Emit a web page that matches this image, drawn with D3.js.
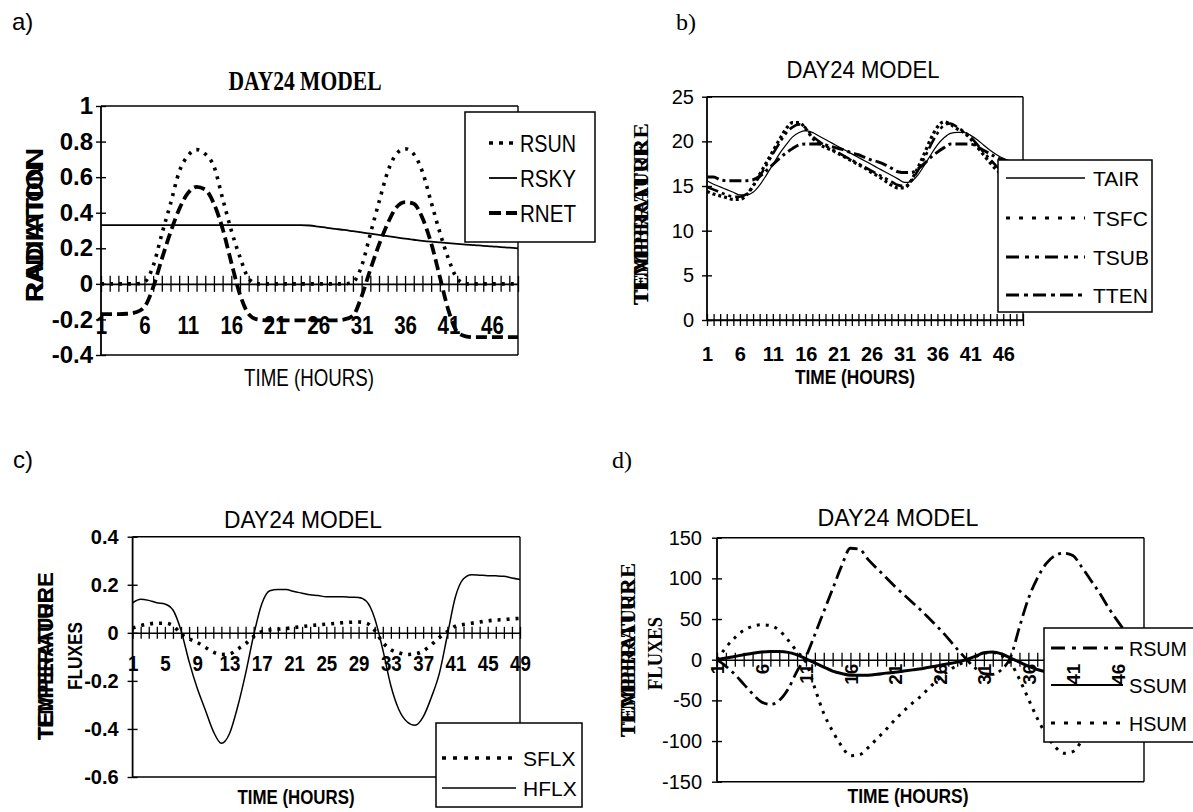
<!DOCTYPE html>
<html>
<head>
<meta charset="utf-8">
<script src="https://cdn.jsdelivr.net/npm/d3@7"></script>
<style>
  body { margin: 0; background: #fff; }
  svg { display: block; }
</style>
</head>
<body>
<svg id="fig" width="1193" height="812"></svg>
<script>
// ---- panel a: radiation (hours 1..49)
const rsun = [0, 0, 0, 0, 0, 0.01, 0.10, 0.28, 0.45, 0.63, 0.72, 0.755, 0.73, 0.66, 0.48, 0.30, 0.15, 0.03,
  0, 0, 0, 0, 0, 0, 0, 0, 0, 0, 0,
  0.01, 0.10, 0.28, 0.46, 0.63, 0.73, 0.76, 0.73, 0.63, 0.46, 0.29, 0.14, 0.03,
  0, 0, 0, 0, 0, 0, 0];
const rsky = [0.33, 0.33, 0.33, 0.33, 0.33, 0.33, 0.33, 0.33, 0.33, 0.33, 0.33, 0.33,
  0.33, 0.33, 0.33, 0.33, 0.33, 0.33, 0.33, 0.33, 0.33, 0.33, 0.33, 0.33,
  0.328, 0.322, 0.315, 0.309, 0.303, 0.296, 0.289, 0.282, 0.275, 0.268, 0.261, 0.254, 0.248,
  0.242, 0.237, 0.233, 0.229, 0.225, 0.221, 0.218, 0.214, 0.211, 0.207, 0.204, 0.20];
const rnet = [-0.17, -0.17, -0.17, -0.168, -0.16, -0.13, -0.02, 0.14, 0.29, 0.42, 0.51, 0.545, 0.53, 0.45,
  0.31, 0.12, -0.06, -0.17, -0.20, -0.205, -0.205, -0.205, -0.205, -0.205, -0.205, -0.205, -0.205,
  -0.205, -0.20, -0.18, -0.07, 0.08, 0.22, 0.34, 0.43, 0.46, 0.45, 0.37, 0.23, 0.04, -0.15, -0.27,
  -0.295, -0.30, -0.30, -0.30, -0.30, -0.30, -0.30];

// ---- panel b: temperatures
const tair = [15.6, 15.2, 14.9, 14.6, 14.3, 14.0, 14.0, 14.3, 15.1, 16.2, 17.4, 18.6, 19.6, 20.5, 21.0,
  21.2, 21.0, 20.6, 20.2, 19.8, 19.4, 19.0, 18.6, 18.2, 17.8, 17.4, 17.0, 16.6, 16.2, 15.8, 15.4,
  15.5, 16.2, 17.3, 18.5, 19.6, 20.4, 20.9, 21.0, 21.0, 20.7, 20.2, 19.6, 19.0, 18.5, 18.1, 17.8, 17.5, 17.3];
const tsfc = [14.4, 14.1, 13.9, 13.7, 13.5, 13.5, 14.0, 15.0, 16.3, 17.6, 18.9, 20.2, 21.4, 22.1, 22.1,
  21.4, 20.4, 19.7, 19.3, 19.0, 18.6, 18.2, 17.8, 17.4, 17.0, 16.5, 16.1, 15.6, 15.1, 14.8, 14.8,
  15.6, 17.0, 18.6, 20.3, 21.6, 22.2, 21.9, 21.4, 21.0, 20.3, 19.4, 18.5, 17.6, 16.8, 16.2, 15.9, 15.7, 15.6];
const tsub = [14.9, 14.6, 14.3, 14.0, 13.8, 13.8, 14.1, 15.0, 16.1, 17.3, 18.6, 19.8, 20.9, 21.6, 21.9,
  21.5, 20.6, 20.0, 19.5, 19.1, 18.7, 18.3, 17.9, 17.5, 17.1, 16.7, 16.3, 15.9, 15.5, 15.1, 15.0,
  15.5, 16.7, 18.1, 19.6, 20.9, 21.8, 22.0, 21.6, 21.1, 20.5, 19.7, 18.8, 18.0, 17.2, 16.6, 16.2, 15.9, 15.7];
const tten = [16.0, 16.0, 15.7, 15.6, 15.6, 15.6, 15.6, 15.7, 16.1, 16.7, 17.4, 18.1, 18.7, 19.2, 19.6,
  19.7, 19.7, 19.7, 19.6, 19.4, 19.2, 19.0, 18.7, 18.5, 18.2, 17.9, 17.7, 17.4, 17.0, 16.6, 16.5,
  16.5, 16.9, 17.5, 18.2, 18.8, 19.3, 19.7, 19.7, 19.7, 19.7, 19.4, 19.0, 18.6, 18.2, 17.9, 17.6, 17.3, 17.1];

// ---- panel c: fluxes
const sflx = [0.02, 0.03, 0.037, 0.04, 0.04, 0.03, -0.005, -0.025, -0.04, -0.06, -0.08, -0.09, -0.088,
  -0.068, -0.045, -0.015, 0.005, 0.012, 0.015, 0.018, 0.022, 0.026, 0.03, 0.033, 0.036, 0.039, 0.042,
  0.044, 0.045, 0.04, 0.01, -0.04, -0.07, -0.083, -0.09, -0.088, -0.075, -0.05, -0.02, 0.005, 0.028,
  0.035, 0.04, 0.045, 0.05, 0.053, 0.055, 0.058, 0.06];
const hflx = [0.125, 0.14, 0.135, 0.125, 0.12, 0.095, 0.01, -0.12, -0.23, -0.32, -0.41, -0.46, -0.42,
  -0.31, -0.17, -0.01, 0.12, 0.175, 0.18, 0.18, 0.172, 0.165, 0.158, 0.155, 0.15, 0.15, 0.15, 0.148,
  0.147, 0.13, 0.06, -0.07, -0.22, -0.32, -0.37, -0.385, -0.35, -0.27, -0.17, -0.01, 0.15, 0.225,
  0.242, 0.24, 0.238, 0.237, 0.235, 0.228, 0.222];

// ---- panel d: sums
const rsum = [0, -8, -18, -30, -42, -52, -55, -50, -36, -14, 4, 31, 59, 87, 115, 137, 136, 123, 112,
  101, 90, 80, 70, 60, 49, 38, 26, 13, 1, -10, -17, -18, -12, 3, 40, 75, 100, 118, 128, 131, 128,
  114, 98, 82, 64, 48, 33, 18, 5];
const ssum = [0, 2, 4, 6, 8, 9.5, 10, 10, 9, 6, 1, -4, -9, -14, -17, -19, -19, -19, -18, -16.5, -15.5,
  -14, -12.5, -11, -9, -7, -5, -3, 0, 4, 8.5, 9.5, 7, 2, -3, -8, -12, -15, -17, -18, -18, -17, -16.5,
  -16, -15.5, -15, -14.5, -14, -14];
const hsum = [0, 15, 27, 36, 41, 43, 42, 36, 24, 10, -3, -35, -66, -88, -106, -118, -117, -108, -97,
  -86, -74, -63, -53, -44, -33, -23, -14, -7, -2, 3, 8, 9, 5, -4, -24, -48, -72, -92, -107, -115,
  -113, -100, -85, -68, -52, -38, -26, -16, -8];

// ---- ticks and labels
const hours = rsun.map((_, i) => i + 1);
const hourLabels5 = ["1", "6", "11", "16", "21", "26", "31", "36", "41", "46"];
const hourLabels4 = ["1", "5", "9", "13", "17", "21", "25", "29", "33", "37", "41", "45", "49"];
const radTicks = [-0.4, -0.2, 0, 0.2, 0.4, 0.6, 0.8, 1];
const radTickLabels = ["-0.4", "-0.2", "0", "0.2", "0.4", "0.6", "0.8", "1"];
const tempTicks = [0, 5, 10, 15, 20, 25];
const tempTickLabels = ["0", "5", "10", "15", "20", "25"];
const fluxTicks = [-0.6, -0.4, -0.2, 0, 0.2, 0.4];
const fluxTickLabels = ["-0.6", "-0.4", "-0.2", "0", "0.2", "0.4"];
const sumTicks = [-150, -100, -50, 0, 50, 100, 150];
const sumTickLabels = ["-150", "-100", "-50", "0", "50", "100", "150"];

const SANS = "'Liberation Sans', Arial, sans-serif";
const SERIF = "'Liberation Serif', 'Times New Roman', serif";

const svg = d3.select("#fig");
svg.append("rect").attr("width", 1193).attr("height", 812).attr("fill", "#fff");

function label(g, str, x, y, o) {
  const t = g.append("text").attr("x", x).attr("y", y).text(str)
    .attr("font-family", o.family || SANS)
    .attr("font-size", o.size || 20)
    .attr("font-weight", o.weight || "normal")
    .attr("text-anchor", o.anchor || "middle")
    .attr("fill", "#000");
  if (o.len) t.attr("textLength", o.len).attr("lengthAdjust", "spacingAndGlyphs");
  if (o.rotate) t.attr("transform", `rotate(-90,${x},${y})`);
  return t;
}

function panel(p) {
  const g = svg.append("g");
  const x = d3.scaleLinear().domain([1, 49]).range([p.left, p.right]);
  const y = d3.scaleLinear().domain(p.yDomain).range([p.bottom, p.top]);

  // frame
  const frame = g.append("g").attr("stroke", "#000").attr("stroke-width", 1.4);
  frame.append("line").attr("x1", p.left).attr("x2", p.right).attr("y1", p.top).attr("y2", p.top);
  frame.append("line").attr("x1", p.right).attr("x2", p.right).attr("y1", p.top).attr("y2", p.bottom);
  frame.append("line").attr("x1", p.left).attr("x2", p.right).attr("y1", p.bottom).attr("y2", p.bottom);
  frame.append("line").attr("x1", p.left).attr("x2", p.left).attr("y1", p.top).attr("y2", p.bottom)
    .attr("stroke-width", 1.8);

  // y axis with crossing ticks
  const ya = g.append("g").attr("transform", `translate(${p.left},0)`)
    .call(d3.axisLeft(y).tickValues(p.yTicks).tickFormat((d, i) => p.yLabels[i])
      .tickSizeInner(5).tickSizeOuter(0).tickPadding(p.yPad));
  ya.select(".domain").remove();
  ya.selectAll(".tick line").attr("x1", 5).attr("stroke-width", 1.4);
  ya.selectAll(".tick text").attr("font-family", p.yFont.family).attr("font-size", p.yFont.size)
    .attr("font-weight", p.yFont.weight);

  // x axis at zero, one tick per hour
  const y0 = y(0);
  const xa = g.append("g").attr("transform", `translate(0,${y0})`)
    .call(d3.axisBottom(x).tickValues(hours).tickFormat("").tickSizeInner(p.xTick).tickSizeOuter(0));
  xa.selectAll(".tick line").attr("y1", -p.xTick).attr("stroke-width", 1.3);
  xa.select(".domain").attr("stroke-width", 1.6);

  // series
  const line = d3.line().x((d, i) => x(hours[i])).y(d => y(d)).curve(d3.curveMonotoneX);
  p.series.forEach(s => {
    g.append("path").datum(s.values).attr("d", line)
      .attr("fill", "none").attr("stroke", "#000")
      .attr("stroke-width", s.w).attr("stroke-dasharray", s.dash || null);
  });

  function xLabels() {
    const la = g.append("g").attr("transform", `translate(0,${y0})`)
      .call(d3.axisBottom(x).tickValues(p.xLabels.map(Number)).tickFormat((d, i) => p.xLabels[i])
        .tickSize(0).tickPadding(p.xPad));
    la.select(".domain").remove();
    const tx = la.selectAll(".tick text").attr("font-family", p.xFont.family)
      .attr("font-size", p.xFont.size).attr("font-weight", p.xFont.weight);
    if (p.xFont.sx) tx.attr("transform", `scale(${p.xFont.sx},1)`);
    if (p.xRotate) {
      tx.attr("transform", "rotate(-90)").attr("text-anchor", "end")
        .attr("x", -p.xPad).attr("y", 0).attr("dy", "0.36em");
    }
  }
  if (!p.labelsOnTop) xLabels();

  // legend
  const L = p.legend;
  g.append("rect").attr("x", L.x).attr("y", L.y).attr("width", L.w).attr("height", L.h)
    .attr("fill", "#fff").attr("stroke", "#000").attr("stroke-width", 1.5);
  p.series.forEach((s, i) => {
    const ry = L.rows[i];
    g.append("line").attr("x1", L.s0).attr("x2", L.s1).attr("y1", ry).attr("y2", ry)
      .attr("stroke", "#000").attr("stroke-width", s.lw || s.w)
      .attr("stroke-dasharray", s.ldash || s.dash || null);
    label(g, s.name, L.tx, ry, { family: L.family, size: L.size, anchor: "start", len: L.len })
      .attr("dy", "0.36em");
  });

  if (p.labelsOnTop) xLabels();

  // title and axis titles
  label(g, "DAY24 MODEL", p.title.x, p.title.y, p.title);
  label(g, "TIME (HOURS)", p.xTitle.x, p.xTitle.y, p.xTitle);
  p.yTitles.forEach(t => label(g, t.text, t.x, t.y, Object.assign({ rotate: true, anchor: "start" }, t)));
  label(g, p.tag.text, p.tag.x, p.tag.y, Object.assign({ anchor: "start", size: 24 }, p.tag));
}

// a) radiation
panel({
  left: 101, right: 518, top: 106, bottom: 355, yDomain: [-0.4, 1],
  yTicks: radTicks, yLabels: radTickLabels, yPad: 3,
  yFont: { family: SANS, size: 24, weight: "bold" },
  xLabels: hourLabels5, xPad: 32, xTick: 8,
  xFont: { family: SANS, size: 25, weight: "bold", sx: 0.82 },
  series: [
    { name: "RSUN", values: rsun, w: 3.6, dash: "3,6", ldash: "4,6" },
    { name: "RSKY", values: rsky, w: 1.8 },
    { name: "RNET", values: rnet, w: 3.8, dash: "11,5", ldash: "12,5" }
  ],
  legend: { x: 465, y: 112, w: 130, h: 130, rows: [143, 178, 213], s0: 489, s1: 517, tx: 520,
    family: SANS, size: 24, len: 56 },
  title: { x: 305, y: 90, family: SERIF, size: 28, weight: "bold", len: 153 },
  xTitle: { x: 309, y: 386, family: SANS, size: 24, len: 130 },
  yTitles: [
    { text: "RADIATION", x: 43, y: 302, family: SANS, size: 23, weight: "bold", len: 154 },
    { text: "RADIATION", x: 43, y: 302, family: SANS, size: 23, weight: "bold", len: 138 }
  ],
  tag: { text: "a)", x: 12, y: 30, family: SANS }
});

// b) temperature
panel({
  left: 707, right: 1023, top: 96.7, bottom: 320, yDomain: [0, 25],
  yTicks: tempTicks, yLabels: tempTickLabels, yPad: 8,
  yFont: { family: SANS, size: 20, weight: "normal" },
  xLabels: hourLabels5, xPad: 27, xTick: 6,
  xFont: { family: SANS, size: 20, weight: "bold" },
  series: [
    { name: "TAIR", values: tair, w: 1.2, lw: 1.5 },
    { name: "TSFC", values: tsfc, w: 3.2, dash: "3,3", ldash: "4,9", lw: 3 },
    { name: "TSUB", values: tsub, w: 2.6, dash: "12,4,3,4,3,4", ldash: "13,6,4,6,4,6", lw: 3 },
    { name: "TTEN", values: tten, w: 3, dash: "12,4,3,4", ldash: "13,5,4,5", lw: 3 }
  ],
  legend: { x: 998, y: 160, w: 154, h: 152, rows: [178, 218, 257, 295], s0: 1006, s1: 1085, tx: 1093,
    family: SANS, size: 21 },
  title: { x: 863, y: 78, family: SANS, size: 24, len: 153 },
  xTitle: { x: 855, y: 384, family: SANS, size: 20, weight: "bold", len: 120 },
  yTitles: [
    { text: "TEMPERATURE", x: 648, y: 305, family: SERIF, size: 22, weight: "bold", len: 182 },
    { text: "TEMPERATURE", x: 648, y: 305, family: SERIF, size: 22, weight: "bold", len: 162 }
  ],
  tag: { text: "b)", x: 676, y: 30, family: SERIF }
});

// c) fluxes
panel({
  left: 132.6, right: 520, top: 536.7, bottom: 777, yDomain: [-0.6, 0.4],
  yTicks: fluxTicks, yLabels: fluxTickLabels, yPad: 9,
  yFont: { family: SANS, size: 20, weight: "bold" },
  xLabels: hourLabels4, xPad: 23, xTick: 6,
  xFont: { family: SANS, size: 22, weight: "bold", sx: 0.85 },
  series: [
    { name: "SFLX", values: sflx, w: 3.6, dash: "3,6", ldash: "4,7" },
    { name: "HFLX", values: hflx, w: 1.5 }
  ],
  legend: { x: 436, y: 723, w: 146, h: 84, rows: [758, 788], s0: 442, s1: 516, tx: 523,
    family: SANS, size: 21 },
  title: { x: 303, y: 528, family: SANS, size: 23, len: 158 },
  xTitle: { x: 296, y: 804, family: SANS, size: 20, weight: "bold", len: 117 },
  yTitles: [
    { text: "TEMPERATURE", x: 53, y: 740, family: SANS, size: 22, weight: "bold", len: 168 },
    { text: "TEMPERATURE", x: 53, y: 740, family: SANS, size: 22, weight: "bold", len: 150 },
    { text: "FLUXES", x: 82, y: 690, family: SANS, size: 20, weight: "bold", len: 68 }
  ],
  tag: { text: "c)", x: 13, y: 468, family: SANS }
});

// d) sums
panel({
  left: 717, right: 1144, top: 537.7, bottom: 781.7, yDomain: [-150, 150],
  yTicks: sumTicks, yLabels: sumTickLabels, yPad: 10,
  yFont: { family: SANS, size: 20, weight: "normal" },
  xLabels: hourLabels5, xPad: 4, xTick: 7, xRotate: true, labelsOnTop: true,
  xFont: { family: SANS, size: 19, weight: "bold" },
  series: [
    { name: "RSUM", values: rsum, w: 2.8, dash: "14,5,3,5", ldash: "14,7,4,7" },
    { name: "SSUM", values: ssum, w: 3, lw: 2 },
    { name: "HSUM", values: hsum, w: 3, dash: "3,6", ldash: "4,9" }
  ],
  legend: { x: 1044, y: 628, w: 160, h: 114, rows: [648, 685, 723], s0: 1051, s1: 1123, tx: 1129,
    family: SANS, size: 21, len: 58 },
  title: { x: 898, y: 526, family: SANS, size: 23, len: 161 },
  xTitle: { x: 908, y: 803, family: SANS, size: 20, weight: "bold", len: 121 },
  yTitles: [
    { text: "TEMPERATURE", x: 635, y: 737, family: SERIF, size: 21, weight: "bold", len: 174 },
    { text: "TEMPERATURE", x: 635, y: 737, family: SERIF, size: 21, weight: "bold", len: 156 },
    { text: "FLUXES", x: 662, y: 690, family: SERIF, size: 20, weight: "bold", len: 73 }
  ],
  tag: { text: "d)", x: 612, y: 468, family: SERIF }
});
</script>
</body>
</html>
